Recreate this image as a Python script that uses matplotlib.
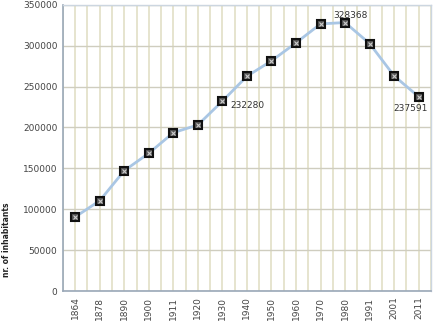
import matplotlib
matplotlib.use('Agg')
import matplotlib.pyplot as plt
import numpy as np

years = ['1864', '1878', '1890', '1900', '1911', '1920', '1930', '1940',
         '1950', '1960', '1970', '1980', '1991', '2001', '2011']
inhabitants = [90600, 110500, 147200, 168500, 193700, 203100, 232280, 262700,
               281500, 303500, 326700, 328368, 302600, 263100, 237591]
labelled = {'1930': 'right', '1980': 'above', '2011': 'below'}

fig = plt.figure(figsize=(4.34, 3.23), dpi=100)
ax = fig.add_axes([0.145, 0.099, 0.848, 0.886])

x = np.arange(len(years))
ax.plot(x, inhabitants, color='#a9c6e4', lw=2, zorder=3)
ax.plot(x, inhabitants, ls='none', marker='s', ms=6, mfc='#555555',
        mec='#111111', mew=1.5, zorder=4)
ax.plot(x, inhabitants, ls='none', marker='x', ms=3.5, mec='#cccccc',
        mew=0.8, zorder=5)

for i, yr in enumerate(years):
    if yr not in labelled:
        continue
    v = inhabitants[i]
    pos = labelled[yr]
    if pos == 'right':
        ax.annotate(str(v), (i, v), xytext=(6, -3), textcoords='offset points',
                    ha='left', va='center', fontsize=6.5, color='#333333')
    elif pos == 'above':
        ax.annotate(str(v), (i, v), xytext=(4, 1.5), textcoords='offset points',
                    ha='center', va='bottom', fontsize=6.5, color='#333333')
    else:
        ax.annotate(str(v), (i, v), xytext=(-6, -5), textcoords='offset points',
                    ha='center', va='top', fontsize=6.5, color='#333333')

ax.set_xlim(-0.5, len(years) - 0.5)
ax.set_ylim(0, 350000)
ax.set_yticks(np.arange(0, 350001, 50000))
ax.set_xticks(x)
ax.set_xticklabels(years, rotation=90, fontsize=6.5, color='#444444')
ax.set_xticks(np.arange(-0.5, len(years), 1.0), minor=True)
ax.tick_params(axis='y', labelsize=6.5, labelcolor='#444444', length=0, pad=4)
ax.tick_params(axis='x', which='both', length=0, pad=4)

ax.grid(axis='x', which='both', color='#e2dfc6', lw=1.2, zorder=0)
ax.grid(axis='y', which='major', color='#cfcdbf', lw=1.0, zorder=0)
ax.set_axisbelow(True)

for s in ['left', 'bottom']:
    ax.spines[s].set_color('#9aa8b8')
    ax.spines[s].set_linewidth(1.2)
for s in ['top', 'right']:
    ax.spines[s].set_color('#ccd6e0')
    ax.spines[s].set_linewidth(1.0)

ax.set_ylabel('nr. of inhabitants', fontsize=5.5, fontweight='bold', color='#222222')
ax.yaxis.set_label_coords(-0.14, 0.18)

fig.savefig('out.png', dpi=100)
